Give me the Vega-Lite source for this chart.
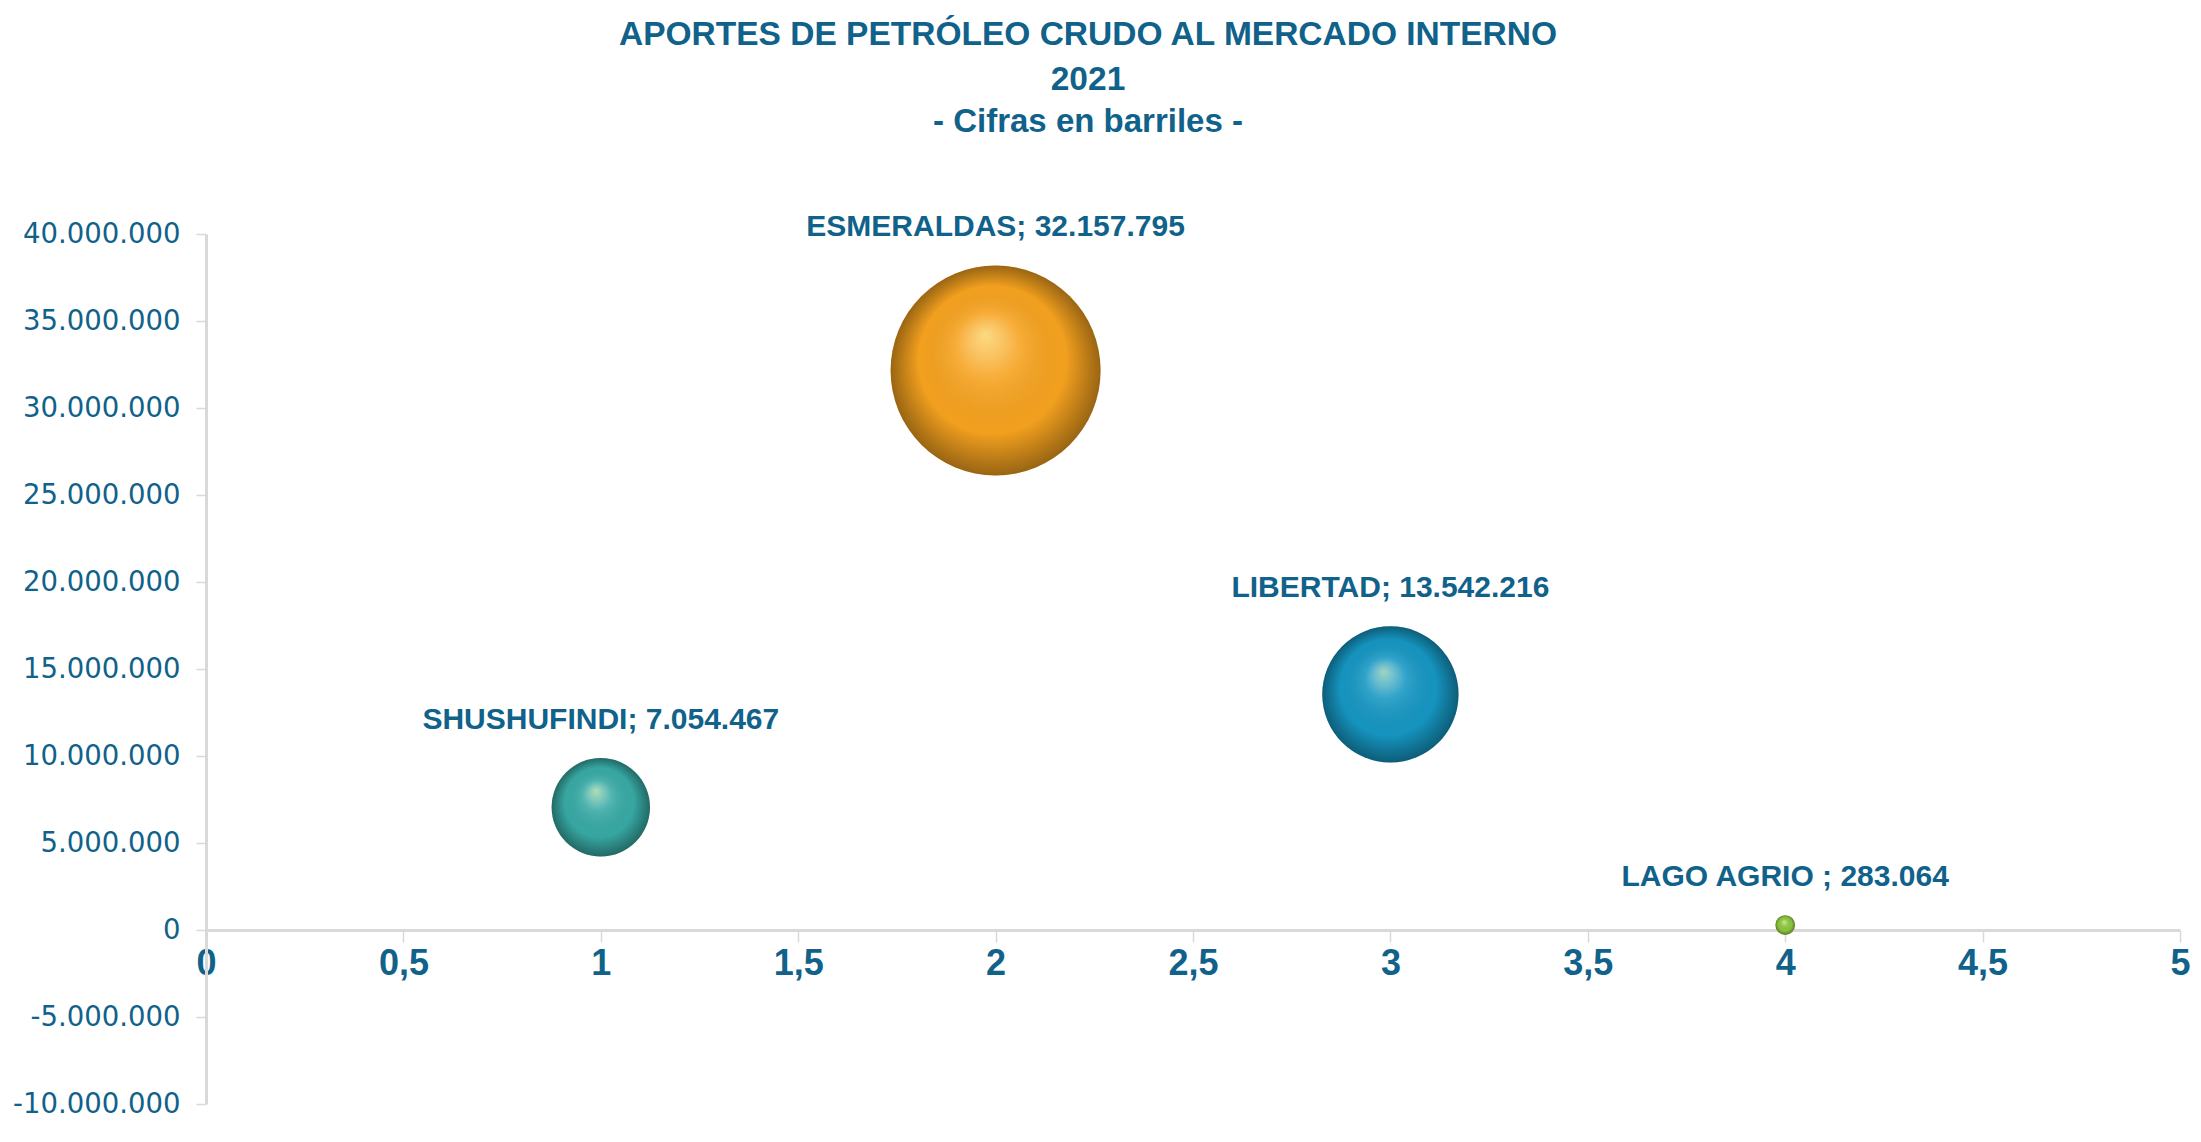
{
  "$schema": "https://vega.github.io/schema/vega-lite/v6.json",
  "width": 1974,
  "height": 870,
  "autosize": "none",
  "padding": {"left": 206, "top": 234, "right": 21, "bottom": 38},
  "background": "white",
  "config": {
    "locale": {"number": {"decimal": ",", "thousands": ".", "grouping": [3], "currency": ["$", ""], "minus": "-"}},
    "view": {"stroke": null}
  },
  "title": {
    "text": ["APORTES DE PETRÓLEO CRUDO AL MERCADO INTERNO", "2021"],
    "subtitle": "- Cifras en barriles -",
    "anchor": "middle",
    "frame": "group",
    "dx": -105,
    "offset": 72,
    "font": "Liberation Sans",
    "fontSize": 33.5,
    "fontWeight": "bold",
    "color": "#10628a",
    "lineHeight": 45,
    "subtitleFont": "Liberation Sans",
    "subtitleFontSize": 33,
    "subtitleFontWeight": "bold",
    "subtitleColor": "#10628a",
    "subtitlePadding": 9
  },
  "data": {
    "values": [
      {"name": "SHUSHUFINDI", "x": 1, "value": 7054467, "label": "SHUSHUFINDI; 7.054.467"},
      {"name": "ESMERALDAS", "x": 2, "value": 32157795, "label": "ESMERALDAS; 32.157.795"},
      {"name": "LIBERTAD", "x": 3, "value": 13542216, "label": "LIBERTAD; 13.542.216"},
      {"name": "LAGO AGRIO", "x": 4, "value": 283064, "label": "LAGO AGRIO ; 283.064"}
    ]
  },
  "encoding": {
    "x": {
      "field": "x", "type": "quantitative",
      "scale": {"domain": [0, 5], "nice": false, "zero": false},
      "axis": {
        "title": null, "values": [0, 0.5, 1, 1.5, 2, 2.5, 3, 3.5, 4, 4.5, 5],
        "format": ".1~f", "offset": -174, "grid": false,
        "domainColor": "#d9d9d9", "domainWidth": 3,
        "tickColor": "#d9d9d9", "tickWidth": 1.5, "tickSize": 12,
        "labelFont": "Liberation Sans", "labelFontSize": 36, "labelFontWeight": "bold",
        "labelColor": "#10628a", "labelPadding": 4, "labelOverlap": false, "labelFlush": false
      }
    },
    "y": {
      "field": "value", "type": "quantitative",
      "scale": {"domain": [-10000000, 40000000], "nice": false},
      "axis": {
        "title": null, "values": [-10000000, -5000000, 0, 5000000, 10000000, 15000000, 20000000, 25000000, 30000000, 35000000, 40000000],
        "format": ",d", "grid": false,
        "domainColor": "#d9d9d9", "domainWidth": 3,
        "tickColor": "#d9d9d9", "tickWidth": 1.5, "tickSize": 10,
        "labelFont": "DejaVu Sans", "labelFontSize": 27.5,
        "labelColor": "#10628a", "labelPadding": 16, "labelOverlap": false
      }
    }
  },
  "layer": [
    {
      "mark": {"type": "point", "shape": "circle", "filled": true, "opacity": 1},
      "encoding": {
        "color": {
          "field": "name", "type": "nominal",
          "scale": {"domain": ["SHUSHUFINDI", "ESMERALDAS", "LIBERTAD", "LAGO AGRIO"], "range": ["#38aaa5", "#f7a31f", "#1697c3", "#8cc63f"]},
          "legend": null
        },
        "size": {"field": "value", "type": "quantitative", "scale": {"type": "linear", "domain": [0, 32157795], "range": [0, 44100]}, "legend": null}
      }
    },
    {
      "mark": {
        "type": "point", "shape": "circle", "filled": true, "opacity": 1,
        "fill": {
          "gradient": "radial", "x1": 0.45, "y1": 0.33, "r1": 0, "x2": 0.5, "y2": 0.5, "r2": 0.5,
          "stops": [
            {"offset": 0, "color": "rgba(255,255,190,0.6)"},
            {"offset": 0.3, "color": "rgba(255,255,255,0.12)"},
            {"offset": 0.7, "color": "rgba(0,0,0,0.02)"},
            {"offset": 1, "color": "rgba(0,0,0,0.38)"}
          ]
        }
      },
      "encoding": {
        "size": {"field": "value", "type": "quantitative", "scale": {"type": "linear", "domain": [0, 32157795], "range": [0, 44100]}, "legend": null}
      }
    },
    {
      "mark": {"type": "text", "font": "Liberation Sans", "fontSize": 30, "fontWeight": "bold", "color": "#10628a", "align": "center", "baseline": "middle",
        "dy": {"expr": "-38 - 105 * sqrt(datum.value / 32157795)"}},
      "encoding": {
        "text": {"field": "label"}
      }
    }
  ]
}
